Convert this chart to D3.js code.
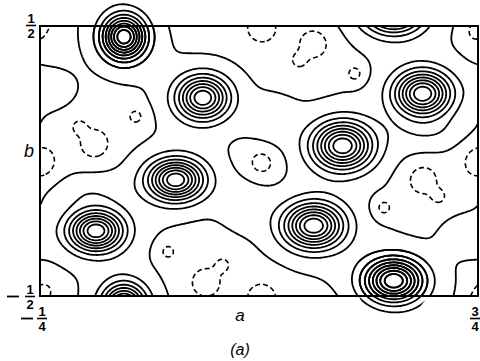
<!DOCTYPE html>
<html><head><meta charset="utf-8">
<script src="https://cdn.jsdelivr.net/npm/d3@7"></script>
<style>body{margin:0;background:#fff}svg{display:block}</style>
</head><body>
<svg id="c" width="480" height="361"></svg>
<script>
// ---------- data ----------
const aDomain = [-0.25, 0.75];
const bDomain = [-0.5, 0.5];
// electron-density peaks: [a, b, height, width_a, width_b]
const peaks = [
  [-0.060,  0.463, 9.2, 0.032, 0.053],
  [ 0.120,  0.237, 8.2, 0.038, 0.052],
  [ 0.058, -0.067, 9.2, 0.041, 0.049],
  [-0.124, -0.256, 9.2, 0.040, 0.049],
  [ 0.622,  0.252, 9.2, 0.041, 0.054],
  [ 0.439,  0.059, 9.2, 0.044, 0.057],
  [ 0.373, -0.237, 9.2, 0.044, 0.054],
  [ 0.556, -0.441, 9.2, 0.043, 0.052]
];
// low ridges between neighbouring peaks: [a, b, height, width_a, width_b]
const ridges = [
  [ 0.280,  0.148, 0.7, 0.041, 0.067],
  [ 0.216, -0.152, 0.7, 0.041, 0.067],
  [-0.223,  0.270, 0.6, 0.041, 0.052],
  [ 0.718, -0.270, 0.6, 0.041, 0.052],
  [-0.147, -0.107, 0.8, 0.064, 0.044],
  [ 0.643,  0.107, 0.8, 0.064, 0.044]
];
// depressions: [a, b, depth, width_a, width_b]
const holes = [
  [-0.127,  0.067, 1.4, 0.0274, 0.0444],
  [-0.163,  0.130, 1.0, 0.0137, 0.0222],
  [-0.033,  0.167, 1.12, 0.016, 0.026],
  [-0.250,  0.000, 1.3, 0.0297, 0.0556],
  [ 0.2546, 0.496, 1.3, 0.0297, 0.048],
  [ 0.373,  0.437, 1.4, 0.0274, 0.0444],
  [ 0.339,  0.374, 1.0, 0.0137, 0.0222],
  [ 0.467,  0.326, 1.25, 0.016, 0.026],
  [ 0.2546,-0.0037, 1.3, 0.0274, 0.0444],
  [ 0.622, -0.067, 1.4, 0.0274, 0.0444],
  [ 0.659, -0.130, 1.0, 0.0137, 0.0222],
  [ 0.533, -0.170, 1.25, 0.016, 0.026],
  [ 0.040, -0.333, 1.12, 0.016, 0.026],
  [ 0.127, -0.448, 1.4, 0.0274, 0.0444],
  [ 0.166, -0.381, 1.0, 0.0137, 0.0222],
  [-0.243, -0.478, 1.2, 0.016, 0.026],
  [ 0.743,  0.478, 1.2, 0.016, 0.026]
];
const baseLevel = 0.7;
const negLevels = [0];
const posLevels = [1, 2, 3, 4, 5, 6, 7, 8, 9, 10];
const outsidePeaks = [0, 7];          // peaks whose rings are drawn beyond the frame
const outsideMinLevel = 2;
const cornerTicks = [
  {minus: false, num: "1", den: "2", at: "topLeft"},
  {minus: true,  num: "1", den: "2", at: "bottomLeft"},
  {minus: true,  num: "1", den: "4", at: "aStart"},
  {minus: false, num: "3", den: "4", at: "aEnd"}
];
const axisLabels = {a: "a", b: "b", caption: "(a)"};

// ---------- layout ----------
const svg = d3.select("#c");
const X0 = 40, X1 = 478, Y0 = 26, Y1 = 296;
const x = d3.scaleLinear().domain(aDomain).range([X0, X1]);
const y = d3.scaleLinear().domain(bDomain).range([Y1, Y0]);

function wrap(d) { return d - Math.round(d); }
// atom profile: sharp core plus a faint broad halo
function atom(q) { return 0.9 * Math.exp(-q / 2) + 0.1 * Math.exp(-q / 8); }
function gauss(q) { return Math.exp(-q / 2); }
function sum(list, a, b, prof) {
  let v = 0;
  for (const [pa, pb, h, sa, sb] of list) {
    const da = wrap(a - pa) / sa, db = wrap(b - pb) / sb;
    v += h * prof(da * da + db * db);
  }
  return v;
}
function field(a, b) {
  return baseLevel + sum(peaks, a, b, atom) + sum(ridges, a, b, gauss) - sum(holes, a, b, gauss);
}

const step = 1.5, gx0 = 0, gy0 = 0;
const nx = Math.ceil(480 / step) + 1, ny = Math.ceil(340 / step) + 1;
const values = new Float64Array(nx * ny);
for (let j = 0; j < ny; j++) {
  for (let i = 0; i < nx; i++) {
    values[j * nx + i] = field(x.invert(gx0 + i * step), y.invert(gy0 + j * step));
  }
}
const proj = d3.geoTransform({
  point(px, py) { this.stream.point(gx0 + px * step, gy0 + py * step); }
});
const path = d3.geoPath(proj);
const contours = d3.contours().size([nx, ny]);

const defs = svg.append("defs");
defs.append("clipPath").attr("id", "frameClip")
  .append("rect").attr("x", X0).attr("y", Y0).attr("width", X1 - X0).attr("height", Y1 - Y0);
const oc = defs.append("clipPath").attr("id", "outClip");
outsidePeaks.forEach(k => {
  const p = peaks[k];
  oc.append("circle").attr("cx", x(p[0])).attr("cy", y(p[1])).attr("r", 38);
});

const gIn = svg.append("g").attr("clip-path", "url(#frameClip)");
gIn.selectAll("path.pos").data(contours.thresholds(posLevels)(values)).join("path")
  .attr("class", "pos").attr("d", path)
  .attr("fill", "none").attr("stroke", "#000").attr("stroke-width", 1.8).attr("stroke-linejoin", "round");
gIn.selectAll("path.neg").data(contours.thresholds(negLevels)(values)).join("path")
  .attr("class", "neg").attr("d", path)
  .attr("fill", "none").attr("stroke", "#000").attr("stroke-width", 1.6)
  .attr("stroke-dasharray", "5,3");

const gOut = svg.append("g").attr("clip-path", "url(#outClip)");
gOut.selectAll("path").data(contours.thresholds(posLevels.filter(l => l >= outsideMinLevel))(values)).join("path")
  .attr("d", path).attr("fill", "none").attr("stroke", "#000").attr("stroke-width", 1.8);

// frame
svg.append("rect").attr("x", X0).attr("y", Y0).attr("width", X1 - X0).attr("height", Y1 - Y0)
  .attr("fill", "none").attr("stroke", "#000").attr("stroke-width", 2);

// fraction labels
const fracPos = {
  topLeft:    {cx: 31, bar: 25.5, minusX: null},
  bottomLeft: {cx: 30, bar: 296.5, minusX: 13},
  aStart:     {cx: 42, bar: 318.5, minusX: 27},
  aEnd:       {cx: 475, bar: 318.5, minusX: null}
};
cornerTicks.forEach(t => {
  const p = fracPos[t.at];
  const g = svg.append("g").attr("font-family", "Liberation Sans, Arial, sans-serif")
    .attr("font-weight", "bold").attr("font-size", 13).attr("text-anchor", "middle");
  g.append("text").attr("x", p.cx).attr("y", p.bar - 2.5).text(t.num);
  g.append("line").attr("x1", p.cx - 5).attr("x2", p.cx + 5).attr("y1", p.bar).attr("y2", p.bar)
    .attr("stroke", "#000").attr("stroke-width", 1.6);
  g.append("text").attr("x", p.cx).attr("y", p.bar + 12).text(t.den);
  if (t.minus) {
    g.append("line").attr("x1", p.minusX - 6).attr("x2", p.minusX + 6).attr("y1", p.bar).attr("y2", p.bar)
      .attr("stroke", "#000").attr("stroke-width", 1.8);
  }
});

const it = svg.append("g").attr("font-family", "Liberation Sans, Arial, sans-serif")
  .attr("font-style", "italic").attr("text-anchor", "middle");
it.append("text").attr("x", 29).attr("y", 157).attr("font-size", 18).text(axisLabels.b);
it.append("text").attr("x", 240).attr("y", 321).attr("font-size", 17).text(axisLabels.a);
it.append("text").attr("x", 240).attr("y", 355).attr("font-size", 16).text(axisLabels.caption);
</script>
</body></html>
